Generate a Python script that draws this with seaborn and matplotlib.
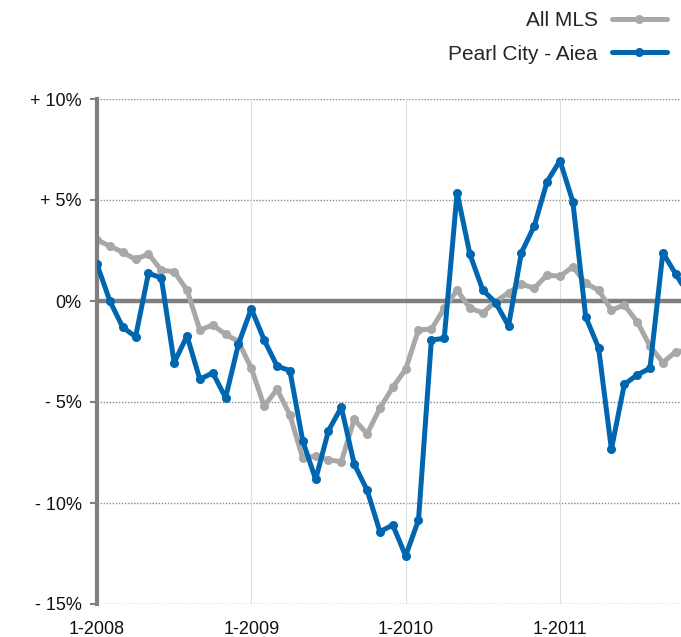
import numpy as np
import pandas as pd
import seaborn as sns
import matplotlib.pyplot as plt

# Monthly values, Jan 2008 onward (percent change)
months = list(range(47))
all_mls = [3.02, 2.72, 2.41, 2.06, 2.33, 1.53, 1.45, 0.54, -1.44, -1.19, -1.65, -2.01,
           -3.33, -5.2, -4.37, -5.64, -7.79, -7.67, -7.87, -7.95, -5.86, -6.58, -5.31, -4.27,
           -3.38, -1.42, -1.40, -0.36, 0.54, -0.36, -0.58, -0.03, 0.41, 0.84, 0.63, 1.29,
           1.22, 1.70, 0.87, 0.54, -0.45, -0.2, -1.02, -2.23, -3.05, -2.51, -2.45]
pearl_city = [1.82, 0.0, -1.30, -1.77, 1.37, 1.15, -3.05, -1.73, -3.88, -3.55, -4.79, -2.13,
              -0.38, -1.93, -3.22, -3.45, -6.93, -8.83, -6.42, -5.26, -8.07, -9.36, -11.42, -11.09,
              -12.62, -10.84, -1.93, -1.85, 5.36, 2.31, 0.54, -0.08, -1.24, 2.39, 3.71, 5.91,
              6.95, 4.92, -0.78, -2.31, -7.34, -4.13, -3.66, -3.33, 2.39, 1.34, 0.3]
year_ticks = [0, 12, 24, 36]
year_labels = ["1-2008", "1-2009", "1-2010", "1-2011"]
y_ticks = [10, 5, 0, -5, -10, -15]
y_labels = ["+ 10%", "+ 5%", "0%", "- 5%", "- 10%", "- 15%"]

sns.set_style("white")
plt.rcParams['font.family'] = ['Liberation Sans', 'DejaVu Sans']

fig = plt.figure(figsize=(6.81, 6.37), dpi=100)
ax = fig.add_axes([97 / 681, 33 / 637, (46 * 12.86) / 681, 505 / 637])

# grid
ax.set_axisbelow(True)
ax.xaxis.grid(True, color='#dedede', linewidth=0.8, linestyle='-')
for v in y_ticks:
    if v != 0:
        ax.axhline(v, color='#8a8a8a', linewidth=1.0, linestyle=(0, (1, 1.2)), zorder=0.5)
ax.axhline(0, color='#808080', linewidth=3.2, zorder=1)

df = pd.DataFrame({'month': months, 'All MLS': all_mls, 'Pearl City - Aiea': pearl_city})
sns.lineplot(x='month', y='All MLS', data=df, ax=ax, color='#a8a8a8', linewidth=3.6,
             marker='o', markersize=6.5, markeredgewidth=0, label='All MLS', zorder=2)
sns.lineplot(x='month', y='Pearl City - Aiea', data=df, ax=ax, color='#0066b0', linewidth=3.6,
             marker='o', markersize=6.5, markeredgewidth=0, label='Pearl City - Aiea', zorder=3)

ax.set_xlim(0, 46)
ax.set_ylim(-15, 10)
ax.set_xticks(year_ticks)
ax.set_xticklabels(year_labels, fontsize=13, color='#111111')
ax.set_yticks(y_ticks)
ax.set_yticklabels(y_labels, fontsize=13, color='#111111')
ax.tick_params(axis='x', length=0, pad=12)
ax.tick_params(axis='y', length=5, width=1.5, color='#808080', pad=6, left=True)
ax.set_xlabel('')
ax.set_ylabel('')

for s in ['top', 'right', 'bottom']:
    ax.spines[s].set_visible(False)
ax.spines['left'].set_color('#808080')
ax.spines['left'].set_linewidth(3)

ax.legend_.remove()
handles, labels = ax.get_legend_handles_labels()
fig.legend(handles, labels, loc='upper right', bbox_to_anchor=(678 / 681, 1.0),
           frameon=False, markerfirst=False, fontsize=15, handlelength=2.6,
           labelspacing=0.68, handletextpad=0.7, borderaxespad=0.15)

fig.savefig('out.png', dpi=100)
